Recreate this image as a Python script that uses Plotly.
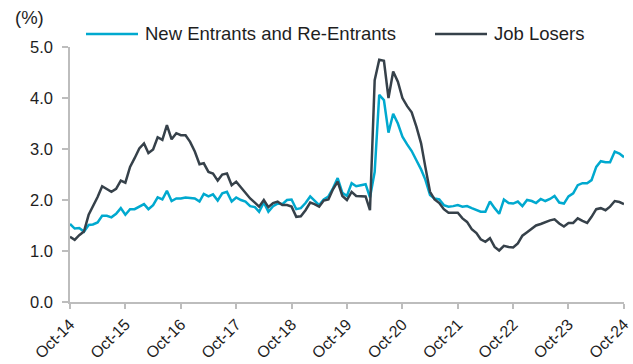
import pandas as pd
import plotly.graph_objects as go

months = pd.date_range("2014-10-01", periods=121, freq="MS")

new_entrants = [
    1.53, 1.44, 1.45, 1.38, 1.51, 1.52, 1.56, 1.69, 1.69, 1.66, 1.73, 1.84,
    1.71, 1.82, 1.82, 1.87, 1.92, 1.82, 1.90, 2.05, 2.01, 2.18, 1.98, 2.03,
    2.03, 2.05, 2.04, 2.03, 1.97, 2.12, 2.07, 2.11, 1.99, 2.13, 2.16, 1.97,
    2.05, 2.00, 1.97, 1.88, 1.86, 1.77, 1.95, 1.77, 1.88, 1.93, 1.92, 2.00,
    2.01, 1.82, 1.84, 1.94, 2.07, 1.99, 1.90, 2.01, 2.07, 2.23, 2.43, 2.14,
    2.08, 2.33, 2.27, 2.29, 2.31, 2.05, 2.55, 4.06, 3.96, 3.32, 3.69, 3.50,
    3.24, 3.09, 2.96, 2.78, 2.60, 2.40, 2.10, 2.03, 2.01, 1.90, 1.87, 1.88,
    1.90, 1.87, 1.88, 1.84, 1.80, 1.77, 1.77, 1.97, 1.84, 1.73, 2.01, 1.94,
    1.93, 1.97, 1.88, 2.00, 1.98, 1.94, 2.02, 1.98, 2.02, 2.08, 1.95, 1.93,
    2.07, 2.13, 2.29, 2.33, 2.33, 2.39, 2.65, 2.76, 2.74, 2.74, 2.95, 2.91,
    2.84,
]

job_losers = [
    1.28, 1.22, 1.31, 1.38, 1.71, 1.87, 2.06, 2.27, 2.22, 2.16, 2.22, 2.38,
    2.34, 2.65, 2.82, 3.01, 3.11, 2.92, 2.99, 3.23, 3.18, 3.47, 3.19, 3.31,
    3.27, 3.27, 3.14, 2.95, 2.70, 2.72, 2.55, 2.52, 2.38, 2.50, 2.52, 2.29,
    2.36, 2.25, 2.16, 2.03, 1.95, 1.87, 2.00, 1.86, 1.94, 1.97, 1.90, 1.90,
    1.87, 1.67, 1.68, 1.80, 1.95, 1.92, 1.87, 1.99, 2.01, 2.21, 2.36, 2.08,
    2.00, 2.16, 2.08, 2.07, 2.07, 1.80, 4.35, 4.75, 4.73, 4.00, 4.52, 4.32,
    4.00, 3.84, 3.72, 3.44, 3.11, 2.65, 2.16, 2.01, 1.94, 1.82, 1.75, 1.75,
    1.75, 1.64, 1.57, 1.43, 1.35, 1.23, 1.18, 1.25, 1.08, 1.01, 1.10, 1.08,
    1.07, 1.15, 1.30, 1.37, 1.44, 1.50, 1.53, 1.57, 1.60, 1.62, 1.54, 1.48,
    1.55, 1.55, 1.64, 1.59, 1.55, 1.67, 1.82, 1.84, 1.80, 1.87, 1.98, 1.96,
    1.92,
]

series_names = ["New Entrants and Re-Entrants", "Job Losers"]
series_colors = ["#00A9CF", "#36414A"]
tick_dates = pd.date_range("2014-10-01", periods=11, freq="12MS")
y_ticks = [0, 1, 2, 3, 4, 5]
y_tick_text = ["0.0", "1.0", "2.0", "3.0", "4.0", "5.0"]

FONT = "Liberation Sans, Arial, sans-serif"
TXT = "#1E1E1E"
AX = "#BDBDBD"

fig = go.Figure()
for name, vals, col in zip(series_names, [new_entrants, job_losers], series_colors):
    fig.add_trace(go.Scatter(x=months, y=vals, mode="lines", name=name,
                             line=dict(color=col, width=2.5), showlegend=False))

L, R, T, B = 70, 9, 47, 62
W, H = 633, 364
pw, ph = W - L - R, H - T - B

def px_to_paper_x(px):
    return (px - L) / pw

def px_to_paper_y(py):
    return (H - B - py) / ph

# manual legend
legend_items = [(86, 138, 143), (435, 487, 492)]
ly = 34
for (x0, x1, xt), name, col in zip(legend_items, series_names, series_colors):
    fig.add_shape(type="line", xref="paper", yref="paper",
                  x0=px_to_paper_x(x0), x1=px_to_paper_x(x1),
                  y0=px_to_paper_y(ly), y1=px_to_paper_y(ly),
                  line=dict(color=col, width=2.5))
    fig.add_annotation(xref="paper", yref="paper", x=px_to_paper_x(xt),
                       y=px_to_paper_y(ly), text=name, showarrow=False,
                       xanchor="left", yanchor="middle",
                       font=dict(family=FONT, size=18.5, color=TXT))

fig.add_annotation(xref="paper", yref="paper", x=px_to_paper_x(13),
                   y=px_to_paper_y(18), text="(%)", showarrow=False,
                   xanchor="left", yanchor="middle",
                   font=dict(family=FONT, size=18.5, color=TXT))

fig.update_layout(
    width=W, height=H,
    margin=dict(l=L, r=R, t=T, b=B, pad=0, autoexpand=False),
    plot_bgcolor="white", paper_bgcolor="white",
    font=dict(family=FONT, size=15, color=TXT),
    xaxis=dict(range=[months[0], months[-1]], tickvals=tick_dates,
               tickformat="%b-%y", tickangle=-45, showgrid=False,
               showline=True, linecolor=AX, linewidth=1.5, automargin=False,
               ticks="outside", ticklen=5, tickcolor=AX, tickwidth=1.5,
               zeroline=False, tickfont=dict(family=FONT, size=16, color=TXT)),
    yaxis=dict(range=[0, 5], tickvals=y_ticks, ticktext=y_tick_text,
               showgrid=False, showline=True, linecolor=AX, linewidth=1.5,
               ticks="outside", ticklen=6, tickcolor=AX, tickwidth=1.5,
               zeroline=False, ticklabelstandoff=6, automargin=False,
               tickfont=dict(family=FONT, size=16.5, color=TXT)),
)

fig.write_html("out.html")
